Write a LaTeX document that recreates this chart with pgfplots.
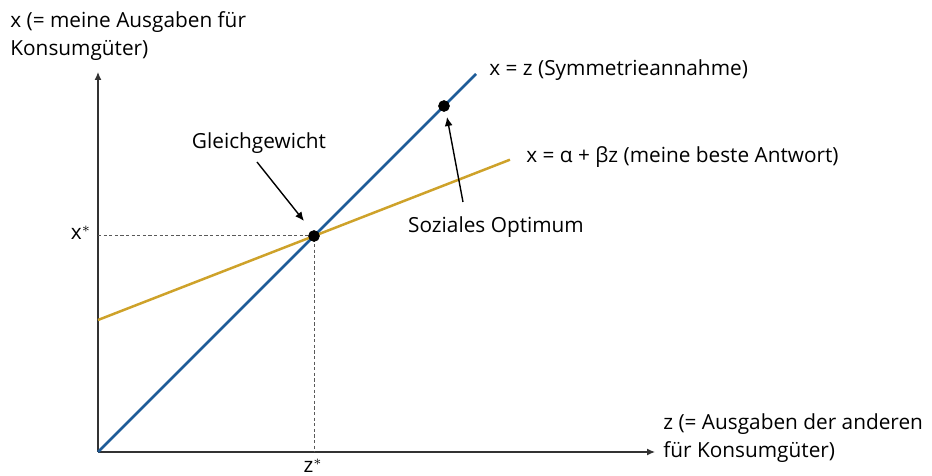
\documentclass[border=0pt]{standalone}
\usepackage{pgfplots}
\pgfplotsset{compat=1.18}
\usetikzlibrary{arrows.meta}
\usepackage{fontspec}
\setmainfont{Open Sans}
\definecolor{symblue}{RGB}{30,92,152}
\definecolor{brgold}{RGB}{206,162,42}
\definecolor{axgray}{RGB}{50,50,50}
\begin{document}
\begin{tikzpicture}
\fontsize{10.4}{14}\selectfont
\begin{axis}[
  at={(49pt,12pt)}, anchor=south west,
  scale only axis,
  width=278.5pt, height=190pt,
  xmin=0, xmax=557, ymin=0, ymax=380,
  axis lines=left,
  axis line style={draw=axgray, line width=0.6pt},
  x axis line style={-{Latex[length=4pt,width=3.5pt]}},
  y axis line style={-{Latex[length=4pt,width=3.5pt]}},
  xtick=\empty, ytick=\empty,
  clip=false,
]
% equilibrium guide lines
\addplot[black!65, line width=0.5pt, dash pattern=on 1.6pt off 1.2pt] coordinates {(0,216) (216,216) (216,0)};
% symmetry line x = z
\addplot[symblue, line width=1.25pt] coordinates {(0,0) (378,378)};
% best response x = alpha + beta z
\addplot[brgold, line width=1.25pt] coordinates {(0,132) (216,216) (412,292.3)};
% equilibrium and social optimum
\addplot[only marks, mark=*, mark size=2.7pt, black] coordinates {(216,216) (346,346)};

% arrows to the points
\draw[black, line width=0.7pt, -{Latex[length=4.5pt,width=4pt]}] (axis cs:159,290) -- (axis cs:206,231);
\draw[black, line width=0.7pt, -{Latex[length=4.5pt,width=4pt]}] (axis cs:365,250) -- (axis cs:349,335);

% labels
\node[anchor=north west, align=left, inner sep=0pt] at (axis cs:-88,441) {x (= meine Ausgaben für\\Konsumgüter)};
\node[anchor=west, align=left, inner sep=0pt] at (axis cs:565,14) {z (= Ausgaben der anderen\\für Konsumgüter)};
\node[inner sep=0pt] at (axis cs:-17,219) {x$^{*}$};
\node[inner sep=0pt] at (axis cs:215,-14) {z$^{*}$};
\node[anchor=west, inner sep=0pt] at (axis cs:391,382) {x = z (Symmetrieannahme)};
\node[anchor=west, inner sep=0pt] at (axis cs:428,295) {x = α + βz (meine beste Antwort)};
\node[inner sep=0pt] at (axis cs:161,309) {Gleichgewicht};
\node[inner sep=0pt] at (axis cs:398,225) {Soziales Optimum};
\end{axis}
\pgfresetboundingbox
\path (0,0) rectangle (466pt,238pt);
\end{tikzpicture}
\end{document}
